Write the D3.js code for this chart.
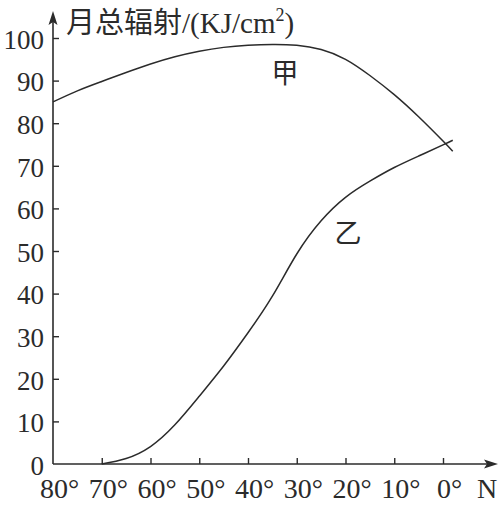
<!DOCTYPE html>
<html>
<head>
<meta charset="utf-8">
<script src="https://cdn.jsdelivr.net/npm/d3@7"></script>
<style>
  body { margin: 0; background: #fff; }
  svg { display: block; }
</style>
</head>
<body>
<div id="chart"></div>
<script>
// values
var jiaLat = [80, 75, 70, 65, 60, 55, 50, 45, 40, 35, 30, 25, 20, 15, 10, 5, 0, -2];
var jiaVal = [85, 87.6, 89.8, 91.9, 93.9, 95.6, 96.9, 97.8, 98.3, 98.5, 98.3, 97.3, 95, 91.2, 86.7, 81.5, 75.8, 73.4];
var yiLat = [70, 65, 60, 55, 50, 45, 40, 35, 30, 25, 20, 15, 10, 5, 0, -2];
var yiVal = [0, 1.3, 4.1, 9.2, 15.9, 23, 30.8, 39.4, 49.3, 57.1, 62.6, 66.4, 69.6, 72.3, 74.9, 76];
var xTicks = [80, 70, 60, 50, 40, 30, 20, 10, 0];
var yTicks = [0, 10, 20, 30, 40, 50, 60, 70, 80, 90, 100];

var W = 504, H = 508;
var ink = "#2b2b2b";
var serif = "'Liberation Serif','DejaVu Serif',serif";
var cjk = "'Noto Sans CJK SC','Noto Sans CJK JP',sans-serif";

var svg = d3.select("#chart").append("svg")
    .attr("width", W).attr("height", H);

var x = d3.scaleLinear().domain([80, 0]).range([53, 443]);
var y = d3.scaleLinear().domain([0, 100]).range([464, 38]);

// axes (ticks point inwards)
var xAxis = svg.append("g")
    .attr("transform", "translate(0," + y(0) + ")")
    .call(d3.axisBottom(x).tickValues(xTicks).tickSize(-6).tickFormat(function (d) { return d + "°"; }));
xAxis.select(".domain").remove();
xAxis.selectAll("line").attr("stroke", ink).attr("stroke-width", 1.4);
xAxis.selectAll("text")
    .attr("y", 34).attr("dy", 0).attr("dx", 6)
    .attr("fill", ink)
    .style("font-family", serif).style("font-size", "28px");
xAxis.selectAll(".tick").filter(function (d) { return d === 80; }).select("line").remove();

var yAxis = svg.append("g")
    .attr("transform", "translate(" + x(80) + ",0)")
    .call(d3.axisLeft(y).tickValues(yTicks).tickSize(-6));
yAxis.select(".domain").remove();
yAxis.selectAll("line").attr("stroke", ink).attr("stroke-width", 1.4);
yAxis.selectAll(".tick").filter(function (d) { return d === 0; }).select("line").remove();
yAxis.selectAll("text")
    .attr("x", -9).attr("dy", "0.38em")
    .attr("fill", ink)
    .style("font-family", serif).style("font-size", "27px");

// axis lines with arrows
svg.append("line")
    .attr("x1", x(80)).attr("y1", y(0)).attr("x2", 490).attr("y2", y(0))
    .attr("stroke", ink).attr("stroke-width", 1.6);
svg.append("path")
    .attr("d", "M498," + y(0) + "L484," + (y(0) - 4.5) + "L487," + y(0) + "L484," + (y(0) + 4.5) + "Z")
    .attr("fill", ink);
svg.append("line")
    .attr("x1", x(80)).attr("y1", y(0)).attr("x2", x(80)).attr("y2", 20)
    .attr("stroke", ink).attr("stroke-width", 1.6);
svg.append("path")
    .attr("d", "M" + x(80) + ",11L" + (x(80) - 4.5) + ",25L" + x(80) + ",22L" + (x(80) + 4.5) + ",25Z")
    .attr("fill", ink);

// axis titles
var title = svg.append("text")
    .attr("x", 66).attr("y", 33)
    .attr("fill", ink);
title.append("tspan").style("font-family", cjk).style("font-size", "29px").text("月总辐射");
title.append("tspan").style("font-family", serif).style("font-size", "29px").text("/(KJ/cm");
title.append("tspan").style("font-family", serif).style("font-size", "18px").attr("dy", -12).text("2");
title.append("tspan").style("font-family", serif).style("font-size", "29px").attr("dy", 12).text(")");

svg.append("text")
    .attr("x", 487).attr("y", 498)
    .attr("text-anchor", "middle")
    .attr("fill", ink)
    .style("font-family", serif).style("font-size", "28px")
    .text("N");

// curves
var line = d3.line()
    .x(function (d) { return x(d[0]); })
    .y(function (d) { return y(d[1]); })
    .curve(d3.curveNatural);

svg.append("path")
    .datum(d3.zip(jiaLat, jiaVal))
    .attr("d", line)
    .attr("fill", "none").attr("stroke", ink).attr("stroke-width", 1.5);

svg.append("path")
    .datum(d3.zip(yiLat, yiVal))
    .attr("d", line)
    .attr("fill", "none").attr("stroke", ink).attr("stroke-width", 1.5);

// curve names
svg.append("text")
    .attr("x", 285).attr("y", 83)
    .attr("text-anchor", "middle")
    .attr("fill", ink)
    .style("font-family", cjk).style("font-size", "27px")
    .text("甲");
svg.append("text")
    .attr("x", 348).attr("y", 243)
    .attr("text-anchor", "middle")
    .attr("fill", ink)
    .style("font-family", cjk).style("font-size", "27px")
    .text("乙");
</script>
</body>
</html>
